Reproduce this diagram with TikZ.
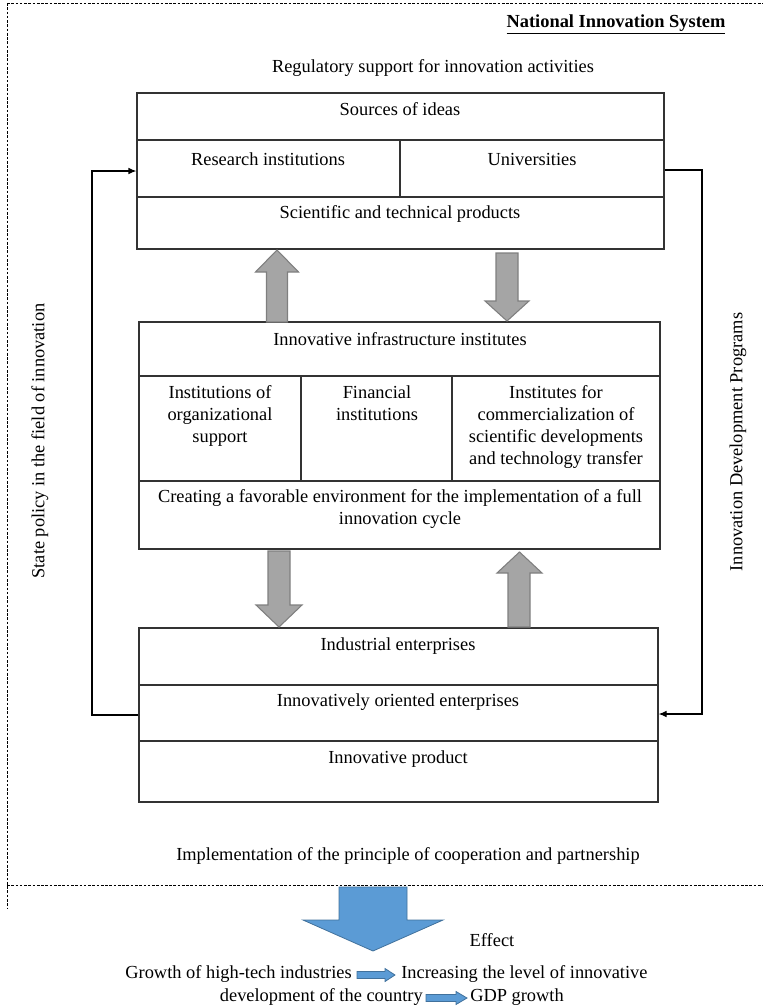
\documentclass[tikz,border=0pt]{standalone}
\usepackage{fontspec}
\setmainfont{Liberation Serif}
\usetikzlibrary{fit,arrows.meta}
\definecolor{garrowfill}{HTML}{A5A5A5}
\definecolor{garrowline}{HTML}{7F7F7F}
\definecolor{barrowfill}{HTML}{5B9BD5}
\definecolor{barrowline}{HTML}{41719C}
\begin{document}
\begin{tikzpicture}[x=0.75pt,y=-0.75pt,
  font=\fontsize{13.8}{16.5}\selectfont,
  cell/.style={draw=black!80, line width=0.9pt, inner sep=0pt},
  lbl/.style={inner sep=0pt, align=center},
  garrow/.style={fill=garrowfill, draw=garrowline, line width=0.8pt, line join=miter},
  barrow/.style={fill=barrowfill, draw=barrowline, line width=0.6pt},
  fb/.style={draw=black, line width=0.9pt, -{Latex[length=6pt,width=5pt]}},
  dashline/.style={draw=black, line width=0.5pt, dash pattern=on 2pt off 1.2pt},
]
\useasboundingbox (0,0) rectangle (763,1008);

% dashed frame
\coordinate (dTL) at (7,3);
\coordinate (dTR) at (763,3);
\coordinate (dBL) at (7,908);
\coordinate (dML) at (7,885);
\coordinate (dMR) at (763,885);
\draw[dashline] (dTL) -- (dTR);
\draw[dashline] (dTL) -- (dBL);
\draw[dashline] (dML) -- (dMR);

% title and top/bottom texts
\node[lbl] (title) at (616,24) {\underline{\textbf{National Innovation System}}};
\node[lbl] (reg) at (433,68) {Regulatory support for innovation activities};
\node[lbl] (impl) at (408,856) {Implementation of the principle of cooperation and partnership};
\node[lbl, rotate=90] (state) at (40,441) {State policy in the field of innovation};
\node[lbl, rotate=90] (idp) at (738,442) {Innovation Development Programs};

% Box 1
\node[cell, fit={(137,93) (664,140)}] (b1a) {};
\node[cell, fit={(137,140) (400,197)}] (b1bl) {};
\node[cell, fit={(400,140) (664,197)}] (b1br) {};
\node[cell, fit={(137,197) (664,249)}] (b1c) {};
\node[lbl] (t1a) at (400,109) {Sources of ideas};
\node[lbl] (t1bl) at (268,159) {Research institutions};
\node[lbl] (t1br) at (532,159) {Universities};
\node[lbl] (t1c) at (400,214) {Scientific and technical products};

% Box 2
\node[cell, fit={(139,322) (660,376)}] (b2a) {};
\node[cell, fit={(139,376) (301,481)}] (b2b1) {};
\node[cell, fit={(301,376) (452,481)}] (b2b2) {};
\node[cell, fit={(452,376) (660,481)}] (b2b3) {};
\node[cell, fit={(139,481) (660,549)}] (b2c) {};
\node[lbl] (t2a) at (400,339) {Innovative infrastructure institutes};
\node[lbl, anchor=north] (t2b1) at (220,385) {Institutions of\\organizational\\support};
\node[lbl, anchor=north] (t2b2) at (377,385) {Financial\\institutions};
\node[lbl, anchor=north] (t2b3) at (556,385) {Institutes for\\commercialization of\\scientific developments\\and technology transfer};
\node[lbl, anchor=north] (t2c) at (400,489) {Creating a favorable environment for the implementation of a full\\innovation cycle};

% Box 3
\node[cell, fit={(139,628) (658,685)}] (b3a) {};
\node[cell, fit={(139,685) (658,741)}] (b3b) {};
\node[cell, fit={(139,741) (658,802)}] (b3c) {};
\node[lbl] (t3a) at (398,646) {Industrial enterprises};
\node[lbl] (t3b) at (398,702) {Innovatively oriented enterprises};
\node[lbl] (t3c) at (398,759) {Innovative product};

% feedback connectors
\coordinate (L) at (92,715);
\coordinate (R) at (702,714);
\draw[fb] (b3b.west |- L) -- (L) -- (L |- 0,171) -- (b1bl.west |- 0,171);
\draw[fb] (b1br.east |- 0,170) -- (R |- 0,170) -- (R) -- (b3b.east |- R);

% gray block arrows
\draw[garrow] (266.5,322) -- (266.5,272) -- (255.5,272) -- (277,250) -- (298.5,272) -- (287.5,272) -- (287.5,322) -- cycle;
\draw[garrow] (496,253) -- (518,253) -- (518,301) -- (529,301) -- (507,321) -- (485,301) -- (496,301) -- cycle;
\draw[garrow] (268,551) -- (290,551) -- (290,605) -- (302,605) -- (279,627) -- (256,605) -- (268,605) -- cycle;
\draw[garrow] (508,627) -- (508,573) -- (497,573) -- (519.5,552) -- (542,573) -- (530,573) -- (530,627) -- cycle;

% effect arrow
\draw[barrow] (339,887) -- (407,887) -- (407,920) -- (443,920) -- (373,951) -- (303,920) -- (339,920) -- cycle;
\node[lbl] (effect) at (492,940) {Effect};

% bottom effect chain
\node[lbl, anchor=east] (g1) at (352,974) {Growth of high-tech industries};
\node[lbl, anchor=west] (g2) at (401,974) {Increasing the level of innovative};
\node[lbl, anchor=east] (g3) at (423,997) {development of the country};
\node[lbl, anchor=west] (g4) at (470,997) {GDP growth};
\draw[barrow] (357,971.5) -- (385,971.5) -- (385,968.5) -- (395,975) -- (385,981.5) -- (385,978.5) -- (357,978.5) -- cycle;
\draw[barrow] (426,994.5) -- (456,994.5) -- (456,991.5) -- (467,998) -- (456,1004.5) -- (456,1001.5) -- (426,1001.5) -- cycle;
\end{tikzpicture}
\end{document}
